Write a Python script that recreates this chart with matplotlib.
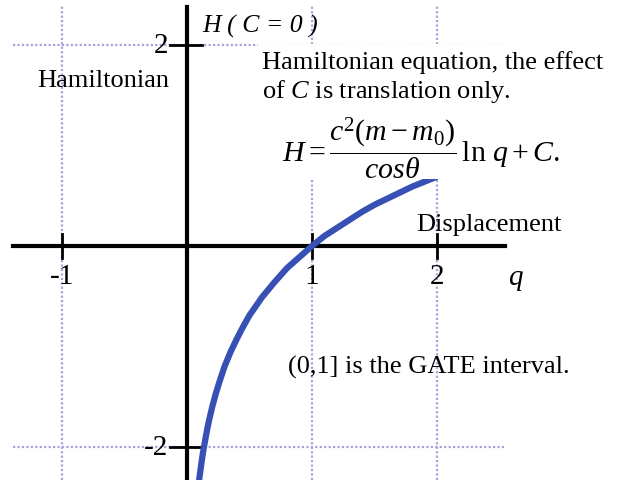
import matplotlib
matplotlib.use('Agg')
import matplotlib.pyplot as plt
from matplotlib.patches import Rectangle

plt.rcParams['font.family'] = ['Liberation Serif', 'DejaVu Serif']
plt.rcParams['mathtext.fontset'] = 'custom'
plt.rcParams['mathtext.rm'] = 'Liberation Serif'
plt.rcParams['mathtext.it'] = 'Liberation Serif:italic'
plt.rcParams['mathtext.bf'] = 'Liberation Serif:bold'

# values (H = ln q, C = 0)
q_vals = [0.09, 0.10, 0.11, 0.12, 0.13, 0.15, 0.17, 0.20, 0.23, 0.26, 0.30,
          0.35, 0.40, 0.45, 0.50, 0.55, 0.60, 0.70, 0.80, 0.90, 1.00, 1.10,
          1.20, 1.30, 1.40, 1.50, 1.60, 1.70, 1.80, 1.90, 2.00]
h_vals = [-2.41, -2.30, -2.21, -2.12, -2.04, -1.90, -1.77, -1.61, -1.47, -1.35,
          -1.20, -1.05, -0.92, -0.80, -0.69, -0.60, -0.51, -0.36, -0.22, -0.11,
          0.00, 0.10, 0.18, 0.26, 0.34, 0.41, 0.47, 0.53, 0.59, 0.64, 0.69]
x_ticks = [-1, 1, 2]
x_tick_labels = ['-1', '1', '2']
y_ticks = [2, -2]
y_tick_labels = ['2', '-2']

W, H = 620, 481
x0, sx = 187, 125.0     # pixel of q=0, pixels per unit
y0, sy = 247, 100.5     # pixel of H=0, pixels per unit


def dx(px):
    return (px - x0) / sx


def dy(py):
    return (y0 - py) / sy


def fig_xy(px, py):
    return px / W, 1 - py / H


fig = plt.figure(figsize=(6.2, 4.81), dpi=100)
ax = fig.add_axes([0, 0, 1, 1])
ax.set_xlim(dx(0), dx(W))
ax.set_ylim(dy(H), dy(0))
ax.axis('off')

grid_col = '#a4a4dc'
for t in x_ticks:
    ax.plot([t, t], [dy(H), dy(6)], color=grid_col, lw=1.6, ls=(0, (1, 1)), zorder=1)
for t in y_ticks:
    ax.plot([dx(13), dx(505)], [t, t], color=grid_col, lw=1.6, ls=(0, (1, 1)), zorder=1)

# white box behind the explanation text
fig.patches.append(Rectangle(fig_xy(258, 180), 356 / W, 135 / H, transform=fig.transFigure,
                             facecolor='white', edgecolor='none', zorder=2))

# axes and ticks
ax.plot([dx(13), dx(505)], [0, 0], color='black', lw=3, zorder=3)
ax.plot([0, 0], [dy(H), dy(8)], color='black', lw=3, zorder=3)
for t in x_ticks:
    ax.plot([t, t], [-0.12, 0.12], color='black', lw=2, zorder=3)
for t in y_ticks:
    ax.plot([dx(170), dx(202)], [t, t], color='black', lw=2, zorder=3)

ax.plot(q_vals, h_vals, color='#3650b4', lw=4.5, solid_capstyle='butt',
        solid_joinstyle='round', zorder=4)

for t, lab in zip(x_ticks, x_tick_labels):
    ax.text(t, dy(277), lab, fontsize=21, ha='center', va='center', zorder=5)
for t, lab in zip(y_ticks, y_tick_labels):
    ax.text(dx(168), t, lab, fontsize=21, ha='right', va='center', zorder=5)

ax.text(dx(508), dy(280), '$q$', fontsize=21, ha='left', va='center', zorder=5)

fig.text(*fig_xy(202, 33), 'H ( C = 0 )', fontsize=18.5, style='italic',
         ha='left', va='baseline', zorder=5)
fig.text(*fig_xy(37, 87), 'Hamiltonian', fontsize=19, ha='left', va='baseline', zorder=5)
fig.text(*fig_xy(262, 69), 'Hamiltonian equation, the effect', fontsize=19,
         ha='left', va='baseline', zorder=5)
fig.text(*fig_xy(262, 98), 'of $C$ is translation only.', fontsize=19,
         ha='left', va='baseline', zorder=5)
fig.text(*fig_xy(421, 148), r'$H=\dfrac{c^2(m-m_0)}{cos\theta}\,\mathrm{ln}\ q+C.$',
         fontsize=21.5, ha='center', va='center', zorder=5)
fig.text(*fig_xy(416, 231), 'Displacement', fontsize=19, ha='left', va='baseline', zorder=5)
fig.text(*fig_xy(288, 374), '(0,1] is the GATE interval.', fontsize=19,
         ha='left', va='baseline', zorder=5)

fig.savefig('out.png', dpi=100)
